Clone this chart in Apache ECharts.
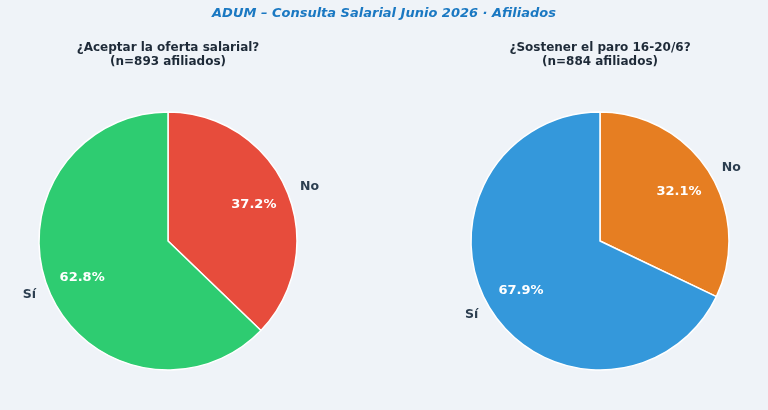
<!DOCTYPE html>
<html><head><meta charset="utf-8">
<script src="https://cdn.jsdelivr.net/npm/echarts@6/dist/echarts.min.js"></script>
<style>html,body{margin:0;padding:0;background:#eff3f8;}#c{width:768px;height:410px;}</style>
</head><body><div id="c"></div>
<script>
const mainTitle = 'ADUM – Consulta Salarial Junio 2026 · Afiliados';
const categories = ['No', 'Sí'];
const leftTitle = '¿Aceptar la oferta salarial?\n(n=893 afiliados)';
const leftValues = [37.2, 62.8];
const leftColors = ['#e74c3c', '#2ecc71'];
const rightTitle = '¿Sostener el paro 16-20/6?\n(n=884 afiliados)';
const rightValues = [32.1, 67.9];
const rightColors = ['#e67e22', '#3498db'];

const R = 129;
const FONT = 'DejaVu Sans';

function pieSeries(values, colors, center) {
  const data = categories.map((c, i) => ({ name: c, value: values[i], itemStyle: { color: colors[i] } }));
  return [
    {
      type: 'pie', center: center, radius: [0, R], startAngle: 90, clockwise: true,
      avoidLabelOverlap: false, silent: true,
      itemStyle: { borderColor: '#ffffff', borderWidth: 1.5 },
      label: { show: true, position: 'outside', formatter: '{b}', fontFamily: FONT, fontWeight: 'bold', fontSize: 12.5, color: '#2c3e50' },
      labelLine: { show: false, length: 9, length2: 0 },
      emphasis: { disabled: true },
      data: data
    },
    {
      type: 'pie', center: center, radius: [R * 0.4, R], startAngle: 90, clockwise: true,
      avoidLabelOverlap: false, silent: true,
      itemStyle: { color: 'rgba(0,0,0,0)', borderWidth: 0 },
      label: { show: true, position: 'inside', formatter: p => p.value.toFixed(1) + '%', fontFamily: FONT, fontWeight: 'bold', fontSize: 13, color: '#ffffff' },
      labelLine: { show: false },
      emphasis: { disabled: true },
      data: categories.map((c, i) => ({ name: c, value: values[i] }))
    }
  ];
}

const chart = echarts.init(document.getElementById('c'), null, { renderer: 'canvas' });
chart.setOption({
  backgroundColor: '#eff3f8',
  animation: false,
  title: [
    { text: mainTitle, left: 'center', top: 2, textStyle: { fontFamily: FONT, fontWeight: 'bold', fontStyle: 'italic', fontSize: 13, color: '#1a78c2' } },
    { text: leftTitle, left: 168, top: 41, padding: 0, textAlign: 'center', textStyle: { fontFamily: FONT, fontWeight: 'bold', fontSize: 12, color: '#1e2a38', lineHeight: 14, align: 'center' } },
    { text: rightTitle, left: 600, top: 41, padding: 0, textAlign: 'center', textStyle: { fontFamily: FONT, fontWeight: 'bold', fontSize: 12, color: '#1e2a38', lineHeight: 14, align: 'center' } }
  ],
  series: [].concat(pieSeries(leftValues, leftColors, [168, 241]), pieSeries(rightValues, rightColors, [600, 241]))
});
</script></body></html>
